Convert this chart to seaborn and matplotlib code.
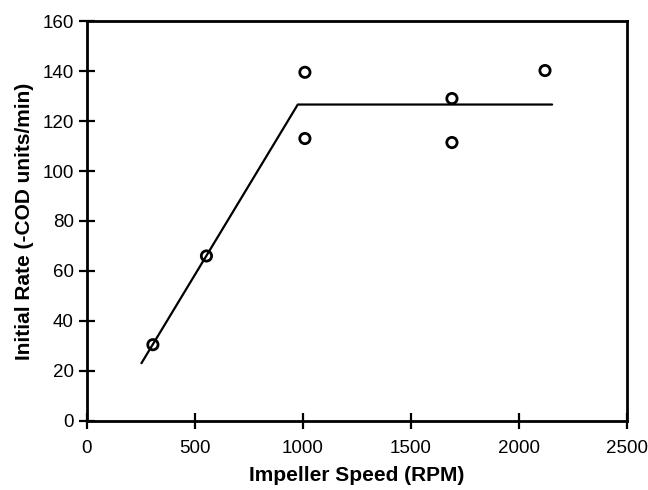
import matplotlib
matplotlib.use("Agg")
import matplotlib.pyplot as plt
import seaborn as sns
import pandas as pd

# measured points
speed = [306, 554, 1010, 1010, 1691, 1691, 2122]
rate = [30.5, 66, 139.5, 113, 129, 111.4, 140.2]

# fitted two-segment line
fit_speed = [253, 977, 2155]
fit_rate = [23.1, 126.6, 126.6]

xticks = [0, 500, 1000, 1500, 2000, 2500]
yticks = [0, 20, 40, 60, 80, 100, 120, 140, 160]

sns.set_style("ticks")
plt.rcParams['font.family'] = ['Liberation Sans', 'DejaVu Sans']
plt.rcParams['text.color'] = 'black'
plt.rcParams['axes.labelcolor'] = 'black'

df = pd.DataFrame({"speed": speed, "rate": rate})
fit = pd.DataFrame({"speed": fit_speed, "rate": fit_rate})

fig = plt.figure(figsize=(6.48, 4.9), dpi=100)
ax = fig.add_axes([0.134, 0.141, 0.833, 0.816])

sns.lineplot(data=fit, x="speed", y="rate", color="black", linewidth=1.6, ax=ax,
             sort=False)
sns.scatterplot(data=df, x="speed", y="rate", marker="o", s=55,
                facecolors="none", edgecolor="black", linewidth=2, ax=ax, zorder=3)

ax.set_xlim(0, 2500)
ax.set_ylim(0, 160)
ax.set_xticks(xticks)
ax.set_yticks(yticks)
ax.tick_params(direction="inout", length=11, width=1.6, labelsize=13.5,
               colors="black", pad=4)
ax.tick_params(axis="x", pad=8)
for s in ax.spines.values():
    s.set_visible(True)
    s.set_linewidth(2)
    s.set_color("black")

ax.set_xlabel("Impeller Speed (RPM)", fontsize=15, fontweight="bold", labelpad=7)
ax.set_ylabel("Initial Rate (-COD units/min)", fontsize=15, fontweight="bold", labelpad=6)

fig.savefig("out.png", dpi=100)
